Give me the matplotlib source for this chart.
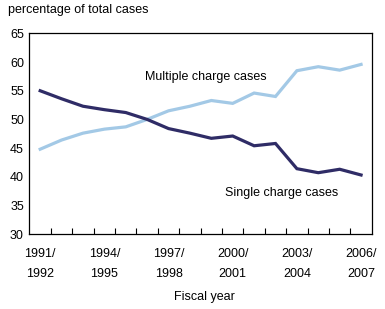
import matplotlib
matplotlib.use("Agg")
import matplotlib.pyplot as plt

plt.rcParams['font.family'] = ['Liberation Sans', 'DejaVu Sans']

years = ["1991/\n1992", "1992/\n1993", "1993/\n1994", "1994/\n1995", "1995/\n1996",
         "1996/\n1997", "1997/\n1998", "1998/\n1999", "1999/\n2000", "2000/\n2001",
         "2001/\n2002", "2002/\n2003", "2003/\n2004", "2004/\n2005", "2005/\n2006",
         "2006/\n2007"]
single = [55.0, 53.6, 52.3, 51.7, 51.2, 50.0, 48.4, 47.6, 46.7, 47.1, 45.4, 45.8, 41.4, 40.7, 41.3, 40.3]
multiple = [44.8, 46.4, 47.6, 48.3, 48.7, 50.0, 51.5, 52.3, 53.3, 52.8, 54.6, 54.0, 58.5, 59.2, 58.6, 59.6]
yticks = [30, 35, 40, 45, 50, 55, 60, 65]

fig = plt.figure(figsize=(3.85, 3.09), dpi=100)
ax = fig.add_axes([0.0766, 0.2427, 0.889, 0.649])

x = [i + 0.5 for i in range(len(years))]
ax.plot(x, multiple, color='#a3c9e6', lw=2.3, solid_joinstyle='miter')
ax.plot(x, single, color='#2f2c66', lw=2.3, solid_joinstyle='miter')

ax.set_xlim(0, len(years))
ax.set_ylim(30, 65)
ax.set_yticks(yticks)
ax.tick_params(axis='y', length=0, labelsize=9, pad=4)
ax.set_xticks(list(range(1, len(years))))
ax.set_xticklabels([])
ax.tick_params(axis='x', direction='in', length=4, width=0.8)
for sp in ax.spines.values():
    sp.set_linewidth(0.9)

for i in range(0, len(years), 3):
    ax.text(x[i], -0.07, years[i], transform=ax.get_xaxis_transform(),
            ha='center', va='top', fontsize=9, linespacing=1.9)

fig.text(206/385, 1-77/309, "Multiple charge cases", fontsize=9, ha='center', va='center')
fig.text(281.7/385, 1-192.7/309, "Single charge cases", fontsize=9, ha='center', va='center')
fig.text(8/385, 1-10/309, "percentage of total cases", fontsize=9, ha='left', va='center')
fig.text(204/385, 1-296.7/309, "Fiscal year", fontsize=9, ha='center', va='center')

fig.savefig("out.png", dpi=100)
